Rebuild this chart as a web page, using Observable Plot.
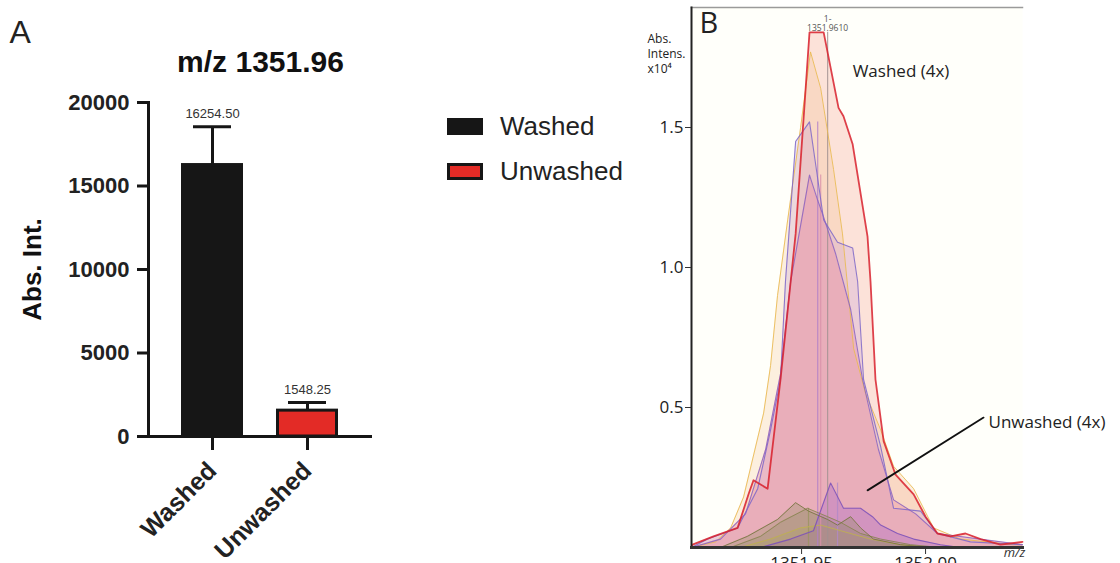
<!DOCTYPE html>
<html><head><meta charset="utf-8">
<script src="https://cdn.jsdelivr.net/npm/d3@7"></script>
<script src="https://cdn.jsdelivr.net/npm/@observablehq/plot@0.6"></script>
<style>
body{margin:0;background:#fff;}
#wrap{position:relative;width:1120px;height:563px;overflow:hidden;background:#fff;}
.abs{position:absolute;top:0;}
.leg{position:absolute;left:447px;font-family:"Liberation Sans",Arial,sans-serif;font-size:26px;color:#222;display:flex;align-items:center;height:20px;}
.sw{width:30px;height:11px;border:3px solid #161616;margin-right:17px;}
</style></head><body><div id="wrap"></div>
<script>
// ---------- Panel A data ----------
const groups = ["Washed", "Unwashed"];
const means = [16254.50, 1548.25];
const sds = [2300, 490];
const meanLabels = ["16254.50", "1548.25"];
const yTicksA = [0, 5000, 10000, 15000, 20000];

// ---------- Panel B data (m/z, Abs. Intens. x10^4) ----------
const redMz  = [1351.9056,1351.9060,1351.9145,1351.9242,1351.9286,1351.9306,1351.9363,1351.9415,1351.9456,1351.9476,1351.9532,1351.9589,1351.9649,1351.9669,1351.9706,1351.9766,1351.9778,1351.9798,1351.9831,1351.9879,1351.9952,1352.0000,1352.0048,1352.0101,1352.0161,1352.0222,1352.0302,1352.0391];
const redInt = [0.00,0.01,0.04,0.07,0.19,0.24,0.21,0.60,0.95,1.12,1.84,1.84,1.57,1.54,1.44,1.11,0.95,0.60,0.38,0.26,0.19,0.11,0.05,0.04,0.05,0.03,0.01,0.02];

const yelMz  = [1351.9056,1351.9153,1351.9214,1351.9266,1351.9347,1351.9375,1351.9403,1351.9444,1351.9496,1351.9536,1351.9577,1351.9629,1351.9665,1351.9710,1351.9758,1351.9819,1351.9871,1351.9952,1352.0032,1352.0141,1352.0355,1352.0391];
const yelInt = [0.00,0.02,0.07,0.18,0.48,0.65,0.90,1.17,1.50,1.77,1.64,1.35,1.12,0.71,0.55,0.42,0.29,0.21,0.07,0.03,0.01,0.01];

const pur1Mz  = [1351.9056,1351.9121,1351.9242,1351.9323,1351.9375,1351.9415,1351.9435,1351.9476,1351.9532,1351.9589,1351.9645,1351.9706,1351.9726,1351.9750,1351.9819,1351.9871,1351.9980,1352.0048,1352.0181,1352.0391];
const pur1Int = [0.00,0.03,0.07,0.21,0.42,0.60,0.95,1.45,1.52,1.17,1.09,1.07,0.95,0.60,0.36,0.14,0.13,0.05,0.02,0.01];

const pur2Mz  = [1351.9056,1351.9173,1351.9274,1351.9355,1351.9415,1351.9456,1351.9532,1351.9565,1351.9589,1351.9637,1351.9698,1351.9746,1351.9810,1351.9871,1351.9960,1352.0048,1352.0391];
const pur2Int = [0.00,0.03,0.12,0.35,0.62,0.95,1.33,1.24,1.18,1.05,0.85,0.60,0.35,0.17,0.12,0.05,0.01];

const unPurMz  = [1351.9335,1351.9456,1351.9548,1351.9617,1351.9669,1351.9738,1351.9786,1351.9819,1351.9887,1351.9952,1352.0060,1352.0141];
const unPurInt = [0.00,0.03,0.06,0.23,0.14,0.14,0.11,0.08,0.05,0.03,0.01,0.00];

const unOl1Mz  = [1351.9173,1351.9282,1351.9403,1351.9476,1351.9528,1351.9605,1351.9645,1351.9698,1351.9738,1351.9790,1351.9899,1352.0020];
const unOl1Int = [0.00,0.04,0.10,0.16,0.13,0.10,0.08,0.11,0.07,0.03,0.01,0.00];

const unOl2Mz  = [1351.9214,1351.9335,1351.9415,1351.9524,1351.9605,1351.9657,1351.9738,1351.9819,1351.9940,1352.0060];
const unOl2Int = [0.00,0.04,0.09,0.14,0.11,0.09,0.05,0.03,0.01,0.00];

const unOl3Mz  = [1351.9254,1351.9375,1351.9496,1351.9577,1351.9657,1351.9778,1351.9899,1352.0020];
const unOl3Int = [0.00,0.03,0.07,0.08,0.06,0.03,0.01,0.00];

const markerMz  = [1351.9528, 1351.9565, 1351.9577, 1351.9605, 1351.9645];
const markerTop = [0.14, 1.52, 1.33, 1.84, 0.23];
const peakLabel = "1-\n1351.9610";
const xTicksB = [1351.95, 1352.00];
const yTicksB = [0.5, 1.0, 1.5];

// annotation anchors (data coordinates)
const washedNote = {mz: 1351.9706, y: 1.70, text: "Washed (4x)"};
const unwashedNote = {mz: 1352.0254, y: 0.446, text: "Unwashed (4x)"};
const leader = [{mz: 1351.9766, y: 0.204}, {mz: 1352.0234, y: 0.464}];

// ---------- styles ----------
const barColors = {Washed: "#161616", Unwashed: "#e32b26"};
const fontA = "Liberation Sans, Arial, sans-serif";
const fontB = "Open Sans, DejaVu Sans, sans-serif";

const wrap = document.getElementById("wrap");

// ---------- Panel A ----------
const rowsA = groups.map((g, i) => ({group: g, mean: means[i], sd: sds[i], label: meanLabels[i]}));
const plotA = Plot.plot({
  width: 420, height: 563,
  marginLeft: 148, marginRight: 48, marginTop: 102, marginBottom: 127,
  style: {background: "transparent", overflow: "visible", maxWidth: "none", fontFamily: fontA},
  x: {domain: groups, paddingInner: 0.347, paddingOuter: 0.352, label: null},
  y: {domain: [0, 20000], label: null},
  marks: [
    Plot.ruleX(rowsA, {x: "group", y1: "mean", y2: d => d.mean + d.sd, stroke: "#161616", strokeWidth: 3}),
    Plot.tickY(rowsA, {x: "group", y: d => d.mean + d.sd, stroke: "#161616", strokeWidth: 3, insetLeft: 12, insetRight: 12}),
    Plot.barY(rowsA, {x: "group", y: "mean", fill: d => barColors[d.group], stroke: "#161616", strokeWidth: 3, insetLeft: 1.5, insetRight: 1.5}),
    Plot.text(rowsA, {x: "group", y: d => d.mean + d.sd, text: "label", dy: -13, fontSize: 13, fill: "#333", fontFamily: fontA}),
    Plot.ruleY([0], {stroke: "#161616", strokeWidth: 3}),
    Plot.frame({anchor: "left", stroke: "#161616", strokeWidth: 3}),
    Plot.axisY(yTicksA, {tickSize: 11, tickPadding: 8, strokeWidth: 3, stroke: "#161616", fontSize: 22, fontWeight: "bold", fill: "#222", tickFormat: d => String(d), label: null}),
    Plot.axisX({tickSize: 14, strokeWidth: 3, stroke: "#161616", tickRotate: -45, tickPadding: 16, fontSize: 25, fontWeight: "bold", fill: "#222", label: null}),
    Plot.text(["m/z 1351.96"], {frameAnchor: "top", dy: -52, fontSize: 30, fontWeight: "bold", fill: "#111", fontFamily: fontA}),
    Plot.text(["A"], {frameAnchor: "top-left", dx: -139, dy: -82, fontSize: 32, textAnchor: "start", lineAnchor: "top", fill: "#222", fontFamily: fontA}),
    Plot.text(["Abs. Int."], {frameAnchor: "left", rotate: -90, dx: -116, textAnchor: "middle", fontSize: 26, fontWeight: "bold", fill: "#111", fontFamily: fontA})
  ]
});
plotA.classList.add("abs");
plotA.style.left = "0px";
wrap.appendChild(plotA);

// legend
groups.forEach((g, i) => {
  const d = document.createElement("div");
  d.className = "leg";
  d.style.top = (116 + i * 45) + "px";
  d.innerHTML = `<span class="sw" style="background:${barColors[g]}"></span><span>${g}</span>`;
  wrap.appendChild(d);
});

// ---------- Panel B ----------
const toRows = (mz, v) => mz.map((m, i) => ({mz: m, int: v[i]}));
const seriesB = [
  {rows: toRows(redMz, redInt),   fill: "#f6a090", fo: 0.30, stroke: "#d8202c", sw: 1.8},
  {rows: toRows(yelMz, yelInt),   fill: "#f3b47a", fo: 0.22, stroke: "#e9b84e", sw: 1.0},
  {rows: toRows(pur1Mz, pur1Int), fill: "#b487d6", fo: 0.22, stroke: "#7c66c8", sw: 1.1},
  {rows: toRows(pur2Mz, pur2Int), fill: "#e888a2", fo: 0.38, stroke: "#8a62c0", sw: 1.1},
  {rows: toRows(unOl3Mz, unOl3Int), fill: "#c8b860", fo: 0.30, stroke: "#c0b050", sw: 1.0},
  {rows: toRows(unOl2Mz, unOl2Int), fill: "#96906a", fo: 0.30, stroke: "#8a8450", sw: 1.0},
  {rows: toRows(unPurMz, unPurInt), fill: "#a864c8", fo: 0.35, stroke: "#7a50b8", sw: 1.1},
  {rows: toRows(unOl1Mz, unOl1Int), fill: "#8c8a5a", fo: 0.30, stroke: "#77733f", sw: 1.0}
];
const markerColors = ["#9a9460", "#b080c8", "#d890a8", "#a09090", "#b088c8"];
const markerRows = markerMz.map((m, i) => ({mz: m, top: markerTop[i], c: markerColors[i]}));

const marksB = [
  Plot.frame({fill: "#fffffa", stroke: null})
];
seriesB.forEach(s => marksB.push(Plot.areaY(s.rows, {x: "mz", y: "int", fill: s.fill, fillOpacity: s.fo})));
marksB.push(Plot.ruleX(markerRows, {x: "mz", y1: 0, y2: "top", stroke: "c", strokeWidth: 1.2, strokeOpacity: 0.8}));
[...seriesB.slice(1), seriesB[0]].forEach(s => marksB.push(Plot.lineY(s.rows, {x: "mz", y: "int", stroke: s.stroke, strokeWidth: s.sw, strokeOpacity: 0.85})));
marksB.push(
  Plot.frame({anchor: "top", stroke: "#9a9a9a", strokeWidth: 1.5}),
  Plot.frame({anchor: "left", stroke: "#222", strokeWidth: 2}),
  Plot.frame({anchor: "bottom", stroke: "#333", strokeWidth: 3}),
  Plot.axisY(yTicksB, {tickSize: 6, tickPadding: 2, stroke: "#333", fontSize: 17, fill: "#222", fontFamily: fontB, tickFormat: d => d.toFixed(1), label: null}),
  Plot.axisX(xTicksB, {tickSize: 7, tickPadding: 2, stroke: "#333", fontSize: 17, fill: "#222", fontFamily: fontB, tickFormat: d => d.toFixed(2), label: null}),
  Plot.text([markerRows[3]], {x: "mz", y: d => d.top, text: () => peakLabel, dy: -1, lineAnchor: "bottom", fontSize: 8.5, fill: "#555", lineHeight: 1.15, fontFamily: fontB}),
  Plot.text([washedNote], {x: "mz", y: "y", text: "text", textAnchor: "start", fontSize: 17, fill: "#222", fontFamily: fontB}),
  Plot.text([unwashedNote], {x: "mz", y: "y", text: "text", textAnchor: "start", fontSize: 17, fill: "#222", fontFamily: fontB}),
  Plot.line(leader, {x: "mz", y: "y", stroke: "#111", strokeWidth: 1.8}),
  Plot.text(["B"], {frameAnchor: "top-left", dx: 8, dy: 5, fontSize: 29, textAnchor: "start", lineAnchor: "top", fill: "#222", fontFamily: fontB}),
  Plot.text(["Abs.\nIntens.\nx10⁴"], {frameAnchor: "top-left", dx: -44, dy: 25, fontSize: 12, textAnchor: "start", lineAnchor: "top", lineHeight: 1.25, fill: "#222", fontFamily: fontB}),
  Plot.text(["m/z"], {frameAnchor: "bottom-right", dx: -8, dy: 9, fontSize: 13, fontStyle: "italic", textAnchor: "middle", fill: "#333", fontFamily: fontB})
);

const plotB = Plot.plot({
  width: 500, height: 563,
  marginLeft: 71, marginRight: 98, marginTop: 7, marginBottom: 16,
  style: {background: "transparent", overflow: "visible", maxWidth: "none", fontFamily: fontB},
  x: {domain: [1351.9056, 1352.0391], label: null},
  y: {domain: [0, 1.9286], label: null},
  marks: marksB
});
plotB.classList.add("abs");
plotB.style.left = "620px";
wrap.appendChild(plotB);
</script></body></html>
